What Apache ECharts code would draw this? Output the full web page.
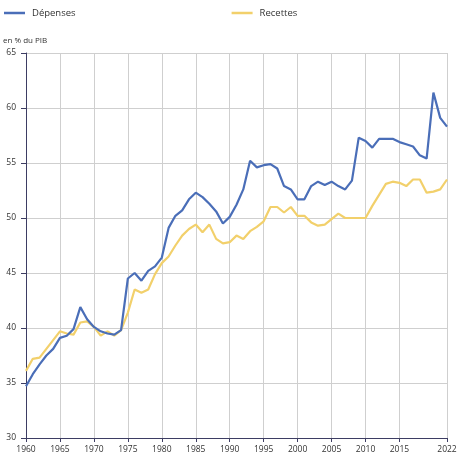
<!DOCTYPE html>
<html>
<head>
<meta charset="utf-8">
<script src="https://cdn.jsdelivr.net/npm/echarts@6/dist/echarts.min.js"></script>
<style>html,body{margin:0;padding:0;background:#fff}#c{width:460px;height:463px}</style>
</head>
<body>
<div id="c"></div>
<script>
var years = [];
for (var y = 1960; y <= 2022; y++) years.push(String(y));

var depenses = [
  34.7, 35.8, 36.7, 37.5, 38.1, 39.1, 39.3, 39.9, 41.9, 40.8,
  40.1, 39.7, 39.5, 39.4, 39.8, 44.5, 45.0, 44.3, 45.2, 45.6,
  46.4, 49.1, 50.2, 50.7, 51.7, 52.3, 51.9, 51.3, 50.6, 49.5,
  50.1, 51.2, 52.6, 55.2, 54.6, 54.8, 54.9, 54.5, 52.9, 52.6,
  51.7, 51.7, 52.9, 53.3, 53.0, 53.3, 52.9, 52.6, 53.4, 57.3,
  57.0, 56.4, 57.2, 57.2, 57.2, 56.9, 56.7, 56.5, 55.7, 55.4,
  61.4, 59.1, 58.3
];
var recettes = [
  36.1, 37.2, 37.3, 38.1, 38.9, 39.7, 39.5, 39.4, 40.5, 40.6,
  40.1, 39.3, 39.7, 39.3, 39.8, 41.4, 43.5, 43.2, 43.5, 44.9,
  45.9, 46.5, 47.5, 48.4, 49.0, 49.4, 48.7, 49.4, 48.1, 47.7,
  47.8, 48.4, 48.1, 48.8, 49.2, 49.7, 51.0, 51.0, 50.5, 51.0,
  50.2, 50.2, 49.6, 49.3, 49.4, 49.9, 50.4, 50.0, 50.0, 50.0,
  50.0, 51.1, 52.1, 53.1, 53.3, 53.2, 52.9, 53.5, 53.5, 52.3,
  52.4, 52.6, 53.5
];
var yTicks = { min: 30, max: 65, interval: 5 };
var seriesNames = ['Dépenses', 'Recettes'];

function showIdx(i) {
  var yr = 1960 + i;
  return (yr % 5 === 0 && yr <= 2015) || yr === 2022;
}

var chart = echarts.init(document.getElementById('c'), null, { renderer: 'canvas' });
var font = '"Open Sans", "Noto Sans", sans-serif';
chart.setOption({
  animation: false,
  textStyle: { fontFamily: font },
  color: ['#4a6eb8', '#f2d06b'],
  legend: {
    left: 4, top: 8, padding: 0,
    itemGap: 156,
    itemWidth: 21, itemHeight: 2.5,
    icon: 'rect',
    textStyle: { fontSize: 9.5, color: '#333', fontFamily: font, padding: [0, 0, 0, 2] },
    data: seriesNames
  },
  grid: { left: 25, right: 13, top: 53, bottom: 25, containLabel: false },
  xAxis: {
    type: 'category',
    data: years,
    boundaryGap: false,
    axisLine: { lineStyle: { color: '#3d3d63', width: 1 } },
    axisTick: { show: true, interval: function (i) { return showIdx(i); }, length: 4, lineStyle: { color: '#3d3d63' } },
    axisLabel: { interval: function (i) { return showIdx(i); }, fontSize: 8.5, color: '#333', margin: 7, fontFamily: font },
    splitLine: { show: true, interval: function (i) { return showIdx(i); }, lineStyle: { color: '#cfcfcf', width: 1 } }
  },
  yAxis: {
    type: 'value',
    min: yTicks.min, max: yTicks.max, interval: yTicks.interval,
    name: 'en % du PIB',
    nameLocation: 'end',
    nameGap: 8,
    nameTextStyle: { fontSize: 8, color: '#333', align: 'left', padding: [0, 0, 0, -23], fontFamily: font },
    axisLine: { show: true, lineStyle: { color: '#3d3d63', width: 1 } },
    axisTick: { show: true, length: 5, lineStyle: { color: '#3d3d63' } },
    axisLabel: { fontSize: 8.5, color: '#333', margin: 10, fontFamily: font },
    splitLine: { show: true, lineStyle: { color: '#cfcfcf', width: 1 } }
  },
  series: [
    { name: seriesNames[0], type: 'line', data: depenses, symbol: 'none', lineStyle: { width: 2.2 }, z: 3 },
    { name: seriesNames[1], type: 'line', data: recettes, symbol: 'none', lineStyle: { width: 2.2 }, z: 2 }
  ]
});
</script>
</body>
</html>
